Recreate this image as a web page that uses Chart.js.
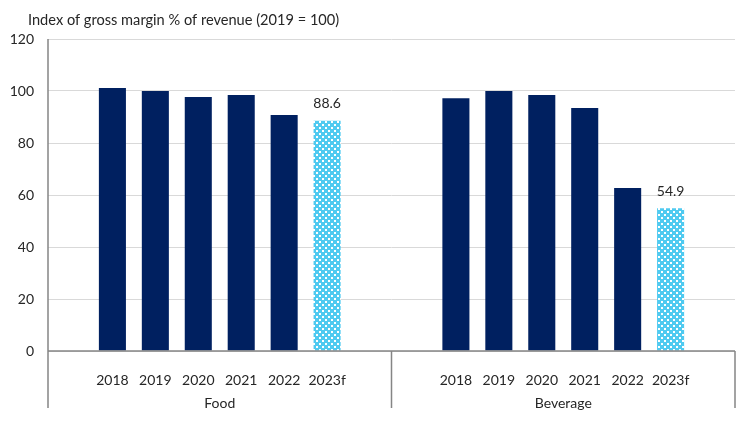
<!DOCTYPE html>
<html>
<head>
<meta charset="utf-8">
<script src="https://cdn.jsdelivr.net/npm/chart.js@4"></script>
<style>
  html, body { margin: 0; padding: 0; background: #fff; }
  #wrap { width: 750px; height: 422px; }
</style>
</head>
<body>
<div id="wrap"><canvas id="c" width="750" height="422"></canvas></div>
<script>
const years = ['2018', '2019', '2020', '2021', '2022', '2023f']
const groups = ['Food', 'Beverage']
const foodValues = [101.2, 100, 97.7, 98.5, 90.8, 88.6]
const beverageValues = [97.2, 100, 98.5, 93.5, 62.7, 54.9]
const yTicks = [0, 20, 40, 60, 80, 100, 120]
const title = 'Index of gross margin % of revenue (2019 = 100)'

const FONT = 'Lato, "Open Sans", sans-serif'
const NAVY = '#002060'
const TEXT = '#262626'
const LINE = '#858585'

// dotted fill for the forecast bars
function makePattern() {
  const p = document.createElement('canvas')
  p.width = 6
  p.height = 6
  const pc = p.getContext('2d')
  pc.fillStyle = '#4fcaf0'
  pc.fillRect(0, 0, 6, 6)
  pc.fillStyle = '#ffffff'
  pc.fillRect(1, 1, 2, 2)
  pc.fillRect(4, 4, 2, 2)
  return pc.createPattern(p, 'repeat')
}
const dots = makePattern()

// one blank slot before, two between and one after the groups
const labels = ['', ...years, '', '', ...years, '']
const values = [null, ...foodValues, null, null, ...beverageValues, null]
const colors = labels.map((l) => (l === '2023f' ? dots : NAVY))

const decor = {
  id: 'decor',
  afterDatasetsDraw(chart) {
    const { ctx, chartArea, scales } = chart
    const x = scales.x
    const left = chartArea.left
    const right = chartArea.right
    const bottom = chartArea.bottom
    const lowest = 408
    const mid = (x.getPixelForValue(7) + x.getPixelForValue(8)) / 2

    ctx.save()
    ctx.strokeStyle = LINE
    ctx.lineWidth = 1.5
    ctx.beginPath()
    ctx.moveTo(left, bottom)
    ctx.lineTo(right, bottom)
    ctx.moveTo(left, chartArea.top)
    ctx.lineTo(left, lowest)
    ctx.moveTo(mid, bottom)
    ctx.lineTo(mid, lowest)
    ctx.moveTo(right, bottom)
    ctx.lineTo(right, lowest)
    ctx.stroke()

    ctx.fillStyle = TEXT
    ctx.textAlign = 'center'
    ctx.textBaseline = 'middle'
    ctx.font = '14px ' + FONT
    ctx.fillText(groups[0], (left + mid) / 2, 403)
    ctx.fillText(groups[1], (mid + right) / 2, 403)

    // value labels on the forecast bars
    const meta = chart.getDatasetMeta(0)
    labels.forEach((l, i) => {
      if (l !== '2023f') return
      const bar = meta.data[i]
      ctx.fillText(values[i].toFixed(1), bar.x, bar.y - 17)
    })

    ctx.textAlign = 'left'
    ctx.font = '14.6px ' + FONT
    ctx.fillText(title, 28, 20)
    ctx.restore()
  },
}

new Chart(document.getElementById('c'), {
  type: 'bar',
  data: {
    labels: labels,
    datasets: [
      {
        data: values,
        backgroundColor: colors,
        barPercentage: 0.63,
        categoryPercentage: 1,
      },
    ],
  },
  options: {
    responsive: false,
    animation: false,
    layout: { padding: { top: 39, right: 15, left: 0, bottom: 0 } },
    plugins: { legend: { display: false }, tooltip: { enabled: false } },
    scales: {
      x: {
        grid: { display: false },
        border: { display: false },
        ticks: { color: TEXT, font: { family: FONT, size: 14 }, padding: 13, maxRotation: 0, autoSkip: false },
        afterFit: (s) => { s.height = 71 },
      },
      y: {
        min: 0,
        max: 120,
        afterBuildTicks: (s) => { s.ticks = yTicks.map((v) => ({ value: v })) },
        grid: { color: '#d9d9d9', lineWidth: 1, drawTicks: false },
        border: { display: false },
        ticks: { color: TEXT, font: { family: FONT, size: 14 }, padding: 14 },
        afterFit: (s) => { s.width = 48 },
      },
    },
  },
  plugins: [decor],
})
</script>
</body>
</html>
